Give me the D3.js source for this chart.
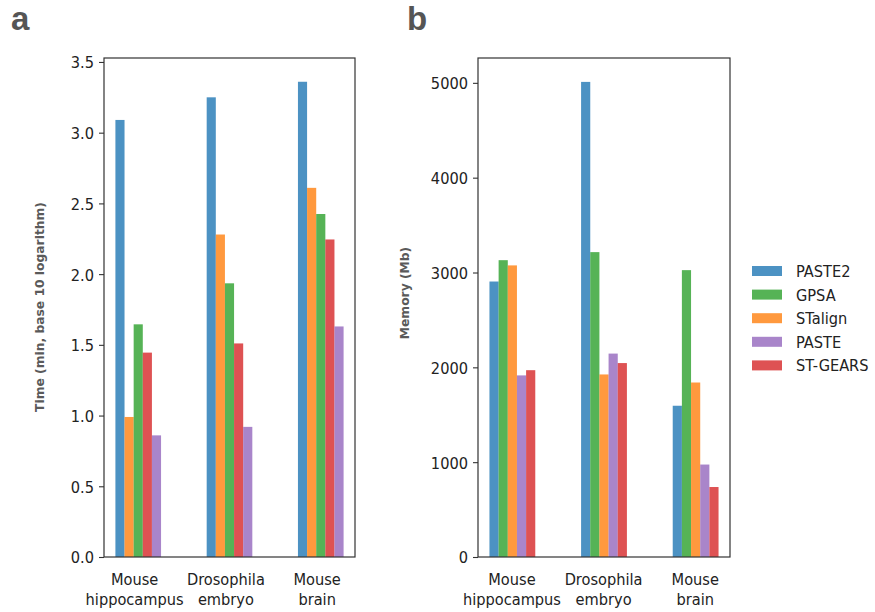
<!DOCTYPE html>
<html>
<head>
<meta charset="utf-8">
<script src="https://cdn.jsdelivr.net/npm/d3@7"></script>
<style>
  html, body { margin: 0; padding: 0; background: #fff; }
  svg { display: block; }
</style>
</head>
<body>
<svg id="chart" width="875" height="612"></svg>
<script>
// ---------- data ----------
const categories = ["Mouse\nhippocampus", "Drosophila\nembryo", "Mouse\nbrain"];

const legendMethods = ["PASTE2", "GPSA", "STalign", "PASTE", "ST-GEARS"];

// Panel a: time (min, log10); bar order within each group
const timeOrder = ["PASTE2", "STalign", "GPSA", "ST-GEARS", "PASTE"];
const timePASTE2  = [3.09, 3.25, 3.36];
const timeSTalign = [0.99, 2.28, 2.61];
const timeGPSA    = [1.645, 1.935, 2.425];
const timeSTGEARS = [1.445, 1.51, 2.245];
const timePASTE   = [0.86, 0.92, 1.63];
const timeTicks = [0, 0.5, 1.0, 1.5, 2.0, 2.5, 3.0, 3.5];

// Panel b: memory (Mb); bar order within each group
const memOrder = ["PASTE2", "GPSA", "STalign", "PASTE", "ST-GEARS"];
const memPASTE2  = [2905, 5010, 1595];
const memGPSA    = [3130, 3215, 3025];
const memSTalign = [3075, 1925, 1840];
const memPASTE   = [1915, 2145, 975];
const memSTGEARS = [1970, 2045, 738];
const memTicks = [0, 1000, 2000, 3000, 4000, 5000];

// ---------- styling ----------
const colors = {
  "PASTE2": "#1f77b4",
  "GPSA": "#2ca02c",
  "STalign": "#ff7f0e",
  "PASTE": "#9467bd",
  "ST-GEARS": "#d62728"
};
const barAlpha = 0.8;
const tickFont = "DejaVu Sans, sans-serif";
const tickSize = 14.6;
const stretch = 1.14;
const textColor = "#222";

const timeSeries = {
  "PASTE2": timePASTE2, "STalign": timeSTalign, "GPSA": timeGPSA,
  "ST-GEARS": timeSTGEARS, "PASTE": timePASTE
};
const memSeries = {
  "PASTE2": memPASTE2, "GPSA": memGPSA, "STalign": memSTalign,
  "PASTE": memPASTE, "ST-GEARS": memSTGEARS
};

const svg = d3.select("#chart");

function panel(opts) {
  const { left, right, top, bottom, order, series, yMax, ticks, fmt,
          ylabel, ylabelX, ylabelY, letter, letterX, labelShift } = opts;
  const g = svg.append("g");
  const nBars = order.length;
  const bw = 0.1;
  const x = d3.scaleLinear().domain([-0.375, categories.length - 1 + 0.375]).range([left, right]);
  const y = d3.scaleLinear().domain([0, yMax]).range([bottom, top]);

  // bars
  order.forEach((name, j) => {
    g.append("g")
      .selectAll("rect")
      .data(series[name])
      .join("rect")
      .attr("x", (d, i) => x(i + (j - nBars / 2) * bw))
      .attr("width", (d, i) => x(bw) - x(0))
      .attr("y", d => y(d))
      .attr("height", d => y(0) - y(d))
      .attr("fill", colors[name])
      .attr("fill-opacity", barAlpha);
  });

  // y axis
  const yAxis = d3.axisLeft(y).tickValues(ticks).tickFormat(fmt).tickSize(5).tickPadding(5);
  const ya = g.append("g").attr("transform", `translate(${left},0)`).call(yAxis);
  ya.select(".domain").remove();
  ya.selectAll(".tick line").attr("stroke", "#333").attr("stroke-width", 1.1);
  ya.selectAll(".tick text")
    .attr("x", null).attr("dy", "0.36em")
    .attr("transform", `translate(-10,0) scale(1,${stretch})`)
    .attr("font-family", tickFont).attr("font-size", tickSize).attr("fill", textColor);

  // x axis (no tick marks)
  const xAxis = d3.axisBottom(x).tickValues(d3.range(categories.length)).tickSize(0).tickFormat("");
  const xa = g.append("g").attr("transform", `translate(0,${bottom})`).call(xAxis);
  xa.select(".domain").remove();
  xa.selectAll(".tick").each(function(d) {
    const dx = x(d + labelShift) - x(d);
    const t = d3.select(this).append("text")
      .attr("text-anchor", "middle")
      .attr("transform", `translate(${dx},0) scale(1,${stretch})`)
      .attr("font-family", tickFont).attr("font-size", tickSize).attr("fill", textColor);
    categories[d].split("\n").forEach((line, k) => {
      t.append("tspan").attr("x", 0).attr("y", (28.5 + k * 19.5) / stretch).text(line);
    });
  });

  // frame
  g.append("rect")
    .attr("x", left).attr("y", top)
    .attr("width", right - left).attr("height", bottom - top)
    .attr("fill", "none").attr("stroke", "#333").attr("stroke-width", 1.2);

  // y label
  g.append("text")
    .attr("transform", `translate(${ylabelX},${ylabelY}) rotate(-90)`)
    .attr("text-anchor", "middle")
    .attr("font-family", "DejaVu Sans, sans-serif")
    .attr("font-weight", "bold")
    .attr("font-size", 12.3)
    .attr("fill", "#5a5a5a")
    .text(ylabel);

  // panel letter
  g.append("text")
    .attr("x", letterX).attr("y", 30)
    .attr("font-family", "Liberation Sans, Arial, sans-serif")
    .attr("font-weight", "bold")
    .attr("font-size", 33)
    .attr("fill", "#555")
    .text(letter);
}

panel({
  left: 104, right: 355, top: 58, bottom: 557,
  order: timeOrder, series: timeSeries, yMax: 3.528,
  ticks: timeTicks, fmt: d3.format(".1f"),
  ylabel: "Time (min, base 10 logarithm)", ylabelX: 44, ylabelY: 307,
  letter: "a", letterX: 11, labelShift: -0.045
});

panel({
  left: 478, right: 730, top: 58, bottom: 557,
  order: memOrder, series: memSeries, yMax: 5262,
  ticks: memTicks, fmt: d3.format("d"),
  ylabel: "Memory (Mb)", ylabelX: 409, ylabelY: 293,
  letter: "b", letterX: 407, labelShift: -0.01
});

// legend
const leg = svg.append("g");
legendMethods.forEach((name, i) => {
  const cy = 271 + i * 23.6;
  leg.append("rect")
    .attr("x", 752).attr("y", cy - 5).attr("width", 30).attr("height", 10)
    .attr("fill", colors[name]).attr("fill-opacity", barAlpha);
  leg.append("text")
    .attr("transform", `translate(796,${cy}) scale(1,${stretch})`)
    .attr("dy", "0.36em")
    .attr("font-family", tickFont).attr("font-size", tickSize).attr("fill", textColor)
    .text(name);
});
</script>
</body>
</html>
